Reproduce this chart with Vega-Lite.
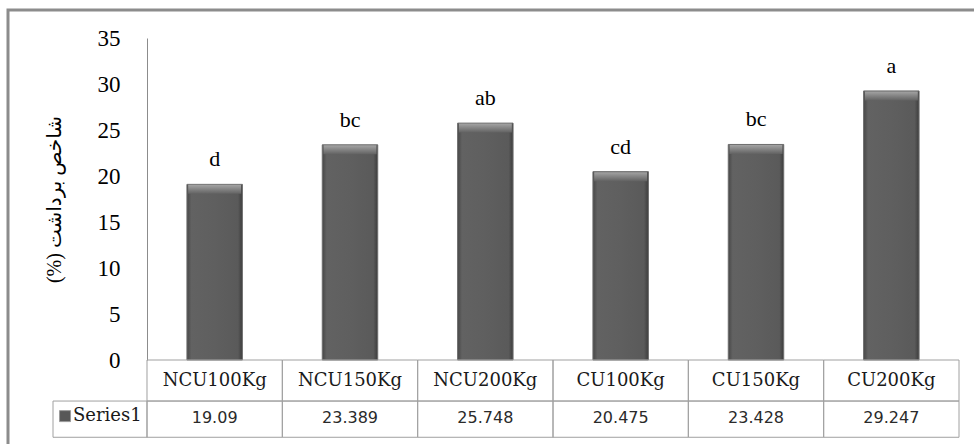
{
  "$schema": "https://vega.github.io/schema/vega-lite/v6.json",
  "autosize": {"type": "none"},
  "width": 972,
  "height": 440,
  "padding": {"left": 8, "top": 10, "right": -6, "bottom": -6},
  "background": "white",
  "config": {
    "view": {"stroke": "#8c8c8c", "strokeWidth": 3},
    "axisY": {
      "offset": -139,
      "ticks": false,
      "grid": false,
      "domainColor": "#8c8c8c",
      "domainWidth": 1,
      "labelFont": "Liberation Serif",
      "labelFontSize": 23,
      "labelColor": "#000000",
      "labelPadding": 27,
      "titleFont": "Liberation Serif, DejaVu Sans",
      "titleFontSize": 20,
      "titleFontWeight": "normal",
      "titleColor": "#000000",
      "titleAngle": -90,
      "titleAlign": "center",
      "titleBaseline": "middle",
      "titleX": -93,
      "titleY": 189
    }
  },
  "datasets": {
    "bars": [
      {"treatment": "NCU100Kg", "value": 19.09, "letter": "d"},
      {"treatment": "NCU150Kg", "value": 23.389, "letter": "bc"},
      {"treatment": "NCU200Kg", "value": 25.748, "letter": "ab"},
      {"treatment": "CU100Kg", "value": 20.475, "letter": "cd"},
      {"treatment": "CU150Kg", "value": 23.428, "letter": "bc"},
      {"treatment": "CU200Kg", "value": 29.247, "letter": "a"}
    ],
    "series": [{"name": "Series1"}]
  },
  "resolve": {"scale": {"x": "independent"}},
  "layer": [
    {
      "data": {"name": "bars"},
      "mark": {
        "type": "bar",
        "width": {"band": 0.41},
        "stroke": "#6e6e6e",
        "strokeWidth": 1,
        "fill": {
          "gradient": "linear",
          "x1": 0, "y1": 0, "x2": 1, "y2": 0,
          "stops": [
            {"offset": 0, "color": "#474747"},
            {"offset": 0.08, "color": "#626262"},
            {"offset": 0.5, "color": "#5f5f5f"},
            {"offset": 0.92, "color": "#5a5a5a"},
            {"offset": 1, "color": "#3c3c3c"}
          ]
        }
      },
      "encoding": {
        "x": {"field": "treatment", "type": "nominal", "sort": null, "axis": null,
              "scale": {"type": "band", "range": [139, 951], "paddingInner": 0, "paddingOuter": 0}},
        "y": {"field": "value", "type": "quantitative",
              "scale": {"domain": [0, 35], "range": [350, 28], "nice": false, "zero": false},
              "axis": {"title": "(%) شاخص برداشت", "values": [0, 5, 10, 15, 20, 25, 30, 35]}}
      }
    },
    {
      "data": {"name": "bars"},
      "mark": {
        "type": "tick",
        "orient": "horizontal",
        "size": 53,
        "thickness": 9,
        "yOffset": 5,
        "opacity": 1,
        "fill": {
          "gradient": "linear",
          "x1": 0, "y1": 0, "x2": 0, "y2": 1,
          "stops": [
            {"offset": 0, "color": "#a4a4a4"},
            {"offset": 1, "color": "#626262"}
          ]
        }
      },
      "encoding": {
        "x": {"field": "treatment", "type": "nominal", "sort": null, "axis": null,
              "scale": {"type": "band", "range": [139, 951], "paddingInner": 0, "paddingOuter": 0}},
        "y": {"field": "value", "type": "quantitative",
              "scale": {"domain": [0, 35], "range": [350, 28], "nice": false, "zero": false}}
      }
    },
    {
      "data": {"name": "bars"},
      "mark": {"type": "text", "dy": -18, "baseline": "alphabetic", "align": "center",
               "font": "Liberation Serif", "fontSize": 22, "color": "#000000"},
      "encoding": {
        "x": {"field": "treatment", "type": "nominal", "sort": null, "axis": null,
              "scale": {"type": "band", "range": [139, 951], "paddingInner": 0, "paddingOuter": 0}},
        "y": {"field": "value", "type": "quantitative",
              "scale": {"domain": [0, 35], "range": [350, 28], "nice": false, "zero": false}},
        "text": {"field": "letter", "type": "nominal"}
      }
    },
    {
      "data": {"name": "bars"},
      "mark": {"type": "rect", "fill": "white", "fillOpacity": 0, "stroke": "#a0a0a0", "strokeWidth": 1},
      "encoding": {
        "x": {"field": "treatment", "type": "nominal", "sort": null, "axis": null,
              "scale": {"type": "band", "range": [139, 951], "paddingInner": 0, "paddingOuter": 0}},
        "y": {"datum": 0, "type": "quantitative",
              "scale": {"domain": [0, 35], "range": [350, 28], "nice": false, "zero": false}},
        "y2": {"datum": -4.46}
      }
    },
    {
      "data": {"name": "bars"},
      "mark": {"type": "rect", "fill": "white", "fillOpacity": 0, "stroke": "#a0a0a0", "strokeWidth": 1},
      "encoding": {
        "x": {"field": "treatment", "type": "nominal", "sort": null, "axis": null,
              "scale": {"type": "band", "range": [139, 951], "paddingInner": 0, "paddingOuter": 0}},
        "y": {"datum": -4.46, "type": "quantitative",
              "scale": {"domain": [0, 35], "range": [350, 28], "nice": false, "zero": false}},
        "y2": {"datum": -8.4}
      }
    },
    {
      "data": {"name": "bars"},
      "mark": {"type": "text", "baseline": "middle", "align": "center",
               "font": "DejaVu Serif", "fontSize": 18, "color": "#1a1a1a"},
      "encoding": {
        "x": {"field": "treatment", "type": "nominal", "sort": null, "axis": null,
              "scale": {"type": "band", "range": [139, 951], "paddingInner": 0, "paddingOuter": 0}},
        "y": {"datum": -2.23, "type": "quantitative",
              "scale": {"domain": [0, 35], "range": [350, 28], "nice": false, "zero": false}},
        "text": {"field": "treatment", "type": "nominal"}
      }
    },
    {
      "data": {"name": "bars"},
      "mark": {"type": "text", "baseline": "middle", "align": "center",
               "font": "DejaVu Sans", "fontSize": 16, "color": "#2a2a2a"},
      "encoding": {
        "x": {"field": "treatment", "type": "nominal", "sort": null, "axis": null,
              "scale": {"type": "band", "range": [139, 951], "paddingInner": 0, "paddingOuter": 0}},
        "y": {"datum": -6.3, "type": "quantitative",
              "scale": {"domain": [0, 35], "range": [350, 28], "nice": false, "zero": false}},
        "text": {"field": "value", "type": "nominal"}
      }
    },
    {
      "data": {"name": "series"},
      "mark": {"type": "rect", "fill": "white", "fillOpacity": 0, "stroke": "#a0a0a0", "strokeWidth": 1},
      "encoding": {
        "x": {"datum": 0, "type": "quantitative", "axis": null,
              "scale": {"type": "linear", "domain": [0, 1], "range": [45, 139], "nice": false, "zero": false}},
        "x2": {"datum": 1},
        "y": {"datum": -4.46, "type": "quantitative",
              "scale": {"domain": [0, 35], "range": [350, 28], "nice": false, "zero": false}},
        "y2": {"datum": -8.4}
      }
    },
    {
      "data": {"name": "series"},
      "mark": {"type": "point", "shape": "square", "filled": true, "size": 121,
               "fill": "#575757", "stroke": "#9a9a9a", "strokeWidth": 1, "opacity": 1},
      "encoding": {
        "x": {"datum": 0.128, "type": "quantitative", "axis": null,
              "scale": {"type": "linear", "domain": [0, 1], "range": [45, 139], "nice": false, "zero": false}},
        "y": {"datum": -6.1, "type": "quantitative",
              "scale": {"domain": [0, 35], "range": [350, 28], "nice": false, "zero": false}}
      }
    },
    {
      "data": {"name": "series"},
      "mark": {"type": "text", "baseline": "middle", "align": "left",
               "font": "DejaVu Serif", "fontSize": 18, "color": "#1a1a1a"},
      "encoding": {
        "x": {"datum": 0.213, "type": "quantitative", "axis": null,
              "scale": {"type": "linear", "domain": [0, 1], "range": [45, 139], "nice": false, "zero": false}},
        "y": {"datum": -6.1, "type": "quantitative",
              "scale": {"domain": [0, 35], "range": [350, 28], "nice": false, "zero": false}},
        "text": {"field": "name", "type": "nominal"}
      }
    }
  ]
}
